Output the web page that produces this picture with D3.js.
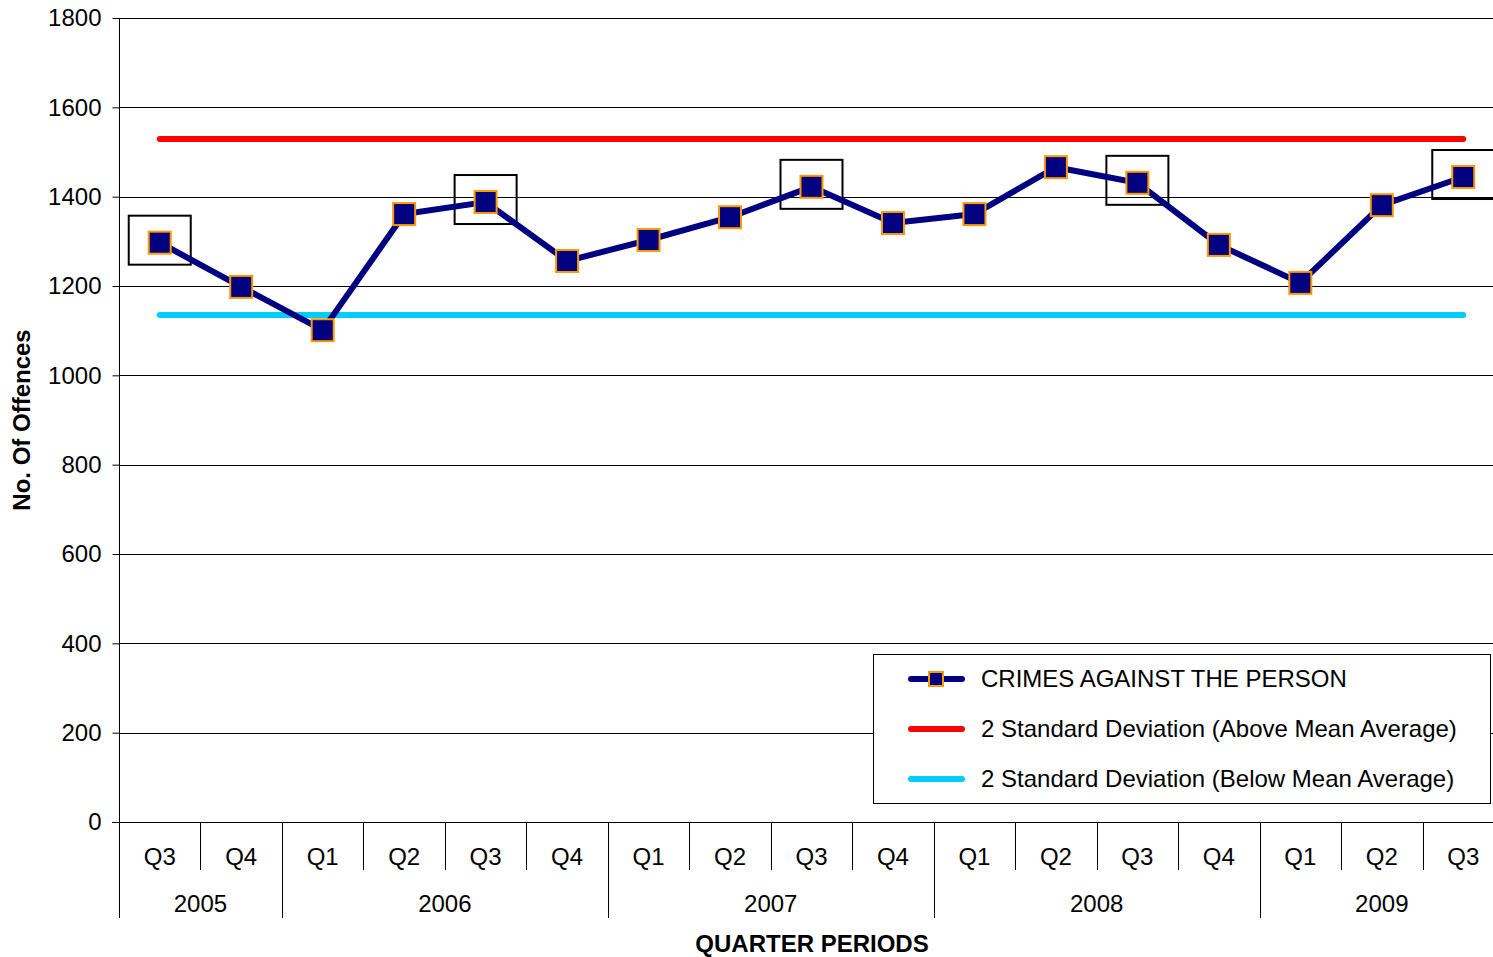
<!DOCTYPE html>
<html lang="en">
<head>
<meta charset="utf-8">
<title>Crimes Against The Person</title>
<script src="https://cdn.jsdelivr.net/npm/d3@7"></script>
<style>
  body { margin: 0; background: #fff; }
  svg { display: block; font-family: "Liberation Sans", Arial, sans-serif; }
  .tick text { font-size: 24px; fill: #000; }
</style>
</head>
<body>
<script>
// Data
var quarters = ["Q3","Q4","Q1","Q2","Q3","Q4","Q1","Q2","Q3","Q4","Q1","Q2","Q3","Q4","Q1","Q2","Q3"];
var years = ["2005","2006","2007","2008","2009"];
var yearCounts = [2, 4, 4, 4, 3];
var offences = [1297, 1198, 1101, 1361, 1388, 1256, 1303, 1354, 1422, 1341, 1361, 1466, 1431, 1292, 1207, 1381, 1444];
var upperLimit = 1529;
var lowerLimit = 1135;
var highlighted = [0, 4, 8, 12, 16];
var yTicks = [0, 200, 400, 600, 800, 1000, 1200, 1400, 1600, 1800];

var width = 1493, height = 957;
var margin = {top: 18, left: 119, bottom: 135};
var plotRight = 1504;  // the last band runs past the picture edge
var fs = 24;

var svg = d3.select("body").append("svg")
    .attr("width", width)
    .attr("height", height);

var x = d3.scaleBand()
    .domain(d3.range(quarters.length))
    .range([margin.left, plotRight]);
var cx = function(i) { return x(i) + x.bandwidth() / 2; };

var y = d3.scaleLinear()
    .domain([0, 1800])
    .range([height - margin.bottom, margin.top]);

// grid lines
svg.append("g")
    .selectAll("line")
    .data(yTicks.slice(1))
    .join("line")
    .attr("x1", margin.left).attr("x2", plotRight)
    .attr("y1", function(d) { return Math.round(y(d)) + 0.5; })
    .attr("y2", function(d) { return Math.round(y(d)) + 0.5; })
    .attr("stroke", "#000").attr("stroke-width", 1);

// y axis
var yAxis = d3.axisLeft(y).tickValues(yTicks).tickFormat(d3.format("d")).tickSize(7).tickPadding(11);
svg.append("g")
    .attr("transform", "translate(" + (margin.left + 0.5) + ",0)")
    .call(yAxis)
    .call(function(g) { g.select(".domain").remove(); })
    .call(function(g) { g.selectAll(".tick line").attr("stroke", "#000"); })
    .call(function(g) { g.selectAll(".tick text").attr("dy", "0.33em"); });

// axis lines
var y0 = Math.round(y(0)) + 0.5;
svg.append("line")
    .attr("x1", margin.left + 0.5).attr("x2", margin.left + 0.5)
    .attr("y1", margin.top).attr("y2", 918)
    .attr("stroke", "#000");
svg.append("line")
    .attr("x1", margin.left - 7).attr("x2", plotRight)
    .attr("y1", y0).attr("y2", y0)
    .attr("stroke", "#000");

// quarter separators and labels
var catAxis = svg.append("g");
catAxis.selectAll("line.q")
    .data(d3.range(1, quarters.length))
    .join("line")
    .attr("class", "q")
    .attr("x1", function(i) { return Math.round(x(i)) + 0.5; })
    .attr("x2", function(i) { return Math.round(x(i)) + 0.5; })
    .attr("y1", y0).attr("y2", 870)
    .attr("stroke", "#000");
catAxis.selectAll("text.q")
    .data(quarters)
    .join("text")
    .attr("class", "q")
    .attr("x", function(d, i) { return cx(i); })
    .attr("y", 865)
    .attr("text-anchor", "middle")
    .attr("font-size", fs)
    .text(function(d) { return d; });

// year separators and labels
var starts = [0];
yearCounts.forEach(function(c, i) { starts.push(starts[i] + c); });
catAxis.selectAll("line.yr")
    .data(starts.slice(1, -1))
    .join("line")
    .attr("class", "yr")
    .attr("x1", function(i) { return Math.round(x(i)) + 0.5; })
    .attr("x2", function(i) { return Math.round(x(i)) + 0.5; })
    .attr("y1", y0).attr("y2", 918)
    .attr("stroke", "#000");
catAxis.selectAll("text.yr")
    .data(years)
    .join("text")
    .attr("class", "yr")
    .attr("x", function(d, i) {
        var a = x(starts[i]);
        var b = starts[i + 1] < quarters.length ? x(starts[i + 1]) : plotRight;
        return (a + b) / 2;
    })
    .attr("y", 912)
    .attr("text-anchor", "middle")
    .attr("font-size", fs)
    .text(function(d) { return d; });

// axis titles
svg.append("text")
    .attr("x", 812).attr("y", 952)
    .attr("text-anchor", "middle")
    .attr("font-size", fs).attr("font-weight", "bold")
    .text("QUARTER PERIODS");
svg.append("text")
    .attr("transform", "translate(30,420)rotate(-90)")
    .attr("text-anchor", "middle")
    .attr("font-size", fs).attr("font-weight", "bold")
    .text("No. Of Offences");

// limit lines
var limitLine = function(v, color) {
    svg.append("line")
        .attr("x1", cx(0)).attr("x2", cx(quarters.length - 1))
        .attr("y1", y(v)).attr("y2", y(v))
        .attr("stroke", color).attr("stroke-width", 6)
        .attr("stroke-linecap", "round");
};
limitLine(upperLimit, "#ff0000");
limitLine(lowerLimit, "#00ccff");

// highlight boxes
svg.append("g")
    .selectAll("rect")
    .data(highlighted)
    .join("rect")
    .attr("x", function(i) { return cx(i) - 31; })
    .attr("y", function(i) { return y(offences[i]) - 27; })
    .attr("width", 62).attr("height", 49)
    .attr("fill", "none").attr("stroke", "#000").attr("stroke-width", 2);

// main series
var line = d3.line()
    .x(function(d, i) { return cx(i); })
    .y(function(d) { return y(d); });
svg.append("path")
    .datum(offences)
    .attr("d", line)
    .attr("fill", "none")
    .attr("stroke", "#000080")
    .attr("stroke-width", 6);

svg.append("g")
    .selectAll("rect")
    .data(offences)
    .join("rect")
    .attr("x", function(d, i) { return cx(i) - 11; })
    .attr("y", function(d) { return y(d) - 11; })
    .attr("width", 22).attr("height", 22)
    .attr("fill", "#000080")
    .attr("stroke", "#ff9900").attr("stroke-width", 2);

// legend
var legend = svg.append("g");
legend.append("rect")
    .attr("x", 873.5).attr("y", 654.5)
    .attr("width", 617).attr("height", 149)
    .attr("fill", "#fff").attr("stroke", "#000");

var legendItems = [
    {label: "CRIMES AGAINST THE PERSON", color: "#000080", marker: true},
    {label: "2 Standard Deviation (Above Mean Average)", color: "#ff0000", marker: false},
    {label: "2 Standard Deviation (Below Mean Average)", color: "#00ccff", marker: false}
];
var li = legend.selectAll("g.item")
    .data(legendItems)
    .join("g")
    .attr("class", "item")
    .attr("transform", function(d, i) { return "translate(0," + (679 + i * 50) + ")"; });
li.append("line")
    .attr("x1", 911).attr("x2", 962)
    .attr("stroke", function(d) { return d.color; })
    .attr("stroke-width", 6)
    .attr("stroke-linecap", "round");
li.filter(function(d) { return d.marker; })
    .append("rect")
    .attr("x", 929).attr("y", -7)
    .attr("width", 14).attr("height", 14)
    .attr("fill", "#000080")
    .attr("stroke", "#ff9900").attr("stroke-width", 2);
li.append("text")
    .attr("x", 981).attr("y", 8)
    .attr("font-size", fs)
    .text(function(d) { return d.label; });
</script>
</body>
</html>
